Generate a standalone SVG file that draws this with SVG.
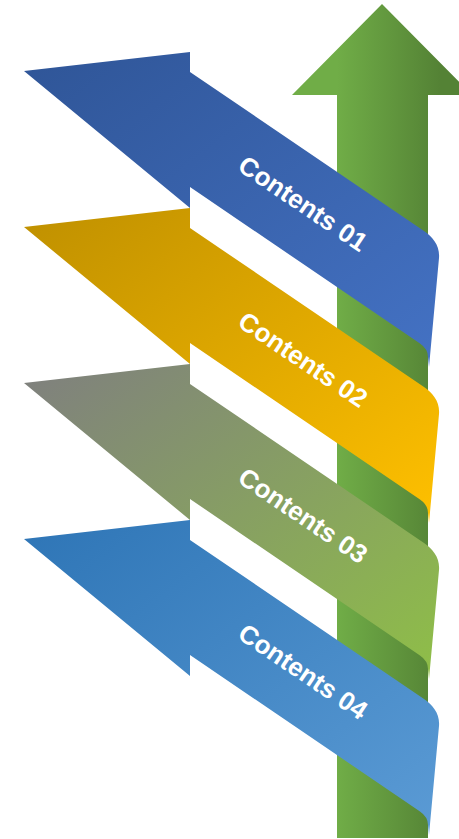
<svg xmlns="http://www.w3.org/2000/svg" width="459" height="839" viewBox="0 0 459 839">
  <style>
    .lbl { font-family: "Liberation Sans", Arial, sans-serif; font-size: 26px; font-weight: bold; fill: #ffffff; text-anchor: middle; }
  </style>
  <defs>
    <linearGradient id="gGreen" gradientUnits="userSpaceOnUse" x1="337" y1="0" x2="440" y2="0">
      <stop offset="0" stop-color="#70AD47"/>
      <stop offset="1" stop-color="#548235"/>
    </linearGradient>
    <linearGradient id="g1" x1="0" y1="0" x2="1" y2="1">
      <stop offset="0" stop-color="#2F5597"/>
      <stop offset="1" stop-color="#4472C4"/>
    </linearGradient>
    <linearGradient id="g2" x1="0" y1="0" x2="1" y2="1">
      <stop offset="0" stop-color="#BF9000"/>
      <stop offset="1" stop-color="#FFC000"/>
    </linearGradient>
    <linearGradient id="g3" x1="0" y1="0" x2="1" y2="1">
      <stop offset="0" stop-color="#7F7F7F"/>
      <stop offset="1" stop-color="#8FBF47"/>
    </linearGradient>
    <linearGradient id="g4" x1="0" y1="0" x2="1" y2="1">
      <stop offset="0" stop-color="#2E75B6"/>
      <stop offset="1" stop-color="#5B9BD5"/>
    </linearGradient>
    <path id="ribbon" d="M24,71 L190,52 L190,72 L424,231 C433,237 440,246 439,258 L429,367 L428,357 Q428,349 420,343.5 L190,187 L190,208 Z"/>
  </defs>

  <g id="growth-arrow">
    <path d="M382,4 L472,95 L428,95 L428,838 L337,838 L337,95 L292,95 Z" fill="url(#gGreen)"/>
  </g>

  <g id="ribbon-01">
    <use href="#ribbon" fill="url(#g1)"/>
    <text class="lbl" transform="translate(298,211) rotate(34)">Contents 01</text>
  </g>
  <g id="ribbon-02" transform="translate(0,156)">
    <use href="#ribbon" fill="url(#g2)"/>
    <text class="lbl" transform="translate(298,211) rotate(34)">Contents 02</text>
  </g>
  <g id="ribbon-03" transform="translate(0,312)">
    <use href="#ribbon" fill="url(#g3)"/>
    <text class="lbl" transform="translate(298,211) rotate(34)">Contents 03</text>
  </g>
  <g id="ribbon-04" transform="translate(0,468)">
    <use href="#ribbon" fill="url(#g4)"/>
    <text class="lbl" transform="translate(298,211) rotate(34)">Contents 04</text>
  </g>
</svg>
